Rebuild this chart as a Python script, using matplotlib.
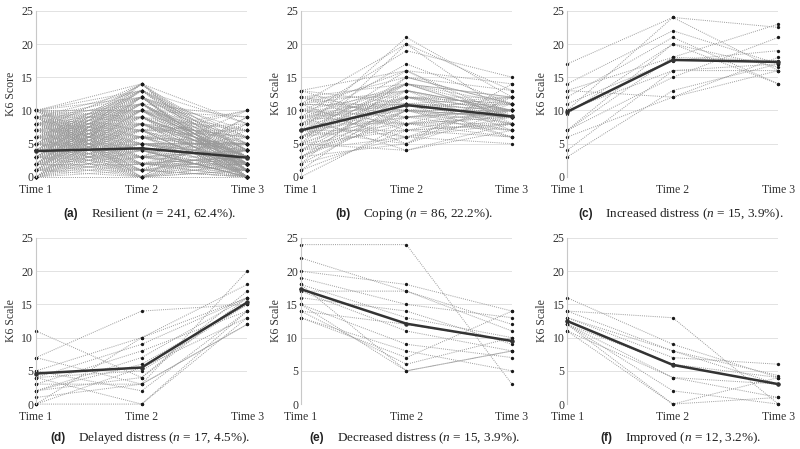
import matplotlib
matplotlib.use("Agg")
import matplotlib.pyplot as plt
from matplotlib.offsetbox import TextArea, HPacker, AnnotationBbox

plt.rcParams['font.family'] = ['Liberation Serif', 'DejaVu Serif']
plt.rcParams['mathtext.fontset'] = 'custom'
plt.rcParams['mathtext.it'] = 'Liberation Serif:italic'
plt.rcParams['mathtext.rm'] = 'Liberation Serif'

times = ['Time 1', 'Time 2', 'Time 3']

# individual trajectories (Time 1, Time 2, Time 3)
resilient = [
    [0, 0, 0], [0, 2, 1], [0, 5, 2], [0, 8, 3], [0, 12, 0], [1, 3, 0], [1, 6, 4], [1, 10, 2], [1, 0, 5], [1, 14, 1],
    [2, 1, 3], [2, 4, 0], [2, 7, 6], [2, 11, 2], [2, 13, 4], [2, 0, 8], [3, 2, 1], [3, 5, 3], [3, 9, 0], [3, 12, 5],
    [3, 6, 10], [3, 1, 7], [4, 3, 2], [4, 6, 4], [4, 8, 1], [4, 10, 6], [4, 14, 3], [4, 0, 9], [4, 4, 5], [5, 2, 0],
    [5, 5, 3], [5, 7, 8], [5, 11, 2], [5, 13, 6], [5, 1, 4], [6, 3, 1], [6, 6, 5], [6, 9, 2], [6, 12, 7], [6, 0, 3],
    [7, 4, 0], [7, 8, 4], [7, 10, 9], [7, 2, 6], [7, 14, 2], [8, 5, 3], [8, 1, 1], [8, 9, 5], [8, 12, 0], [8, 7, 10],
    [9, 3, 2], [9, 6, 7], [9, 11, 4], [9, 13, 1], [10, 4, 3], [10, 8, 6], [10, 14, 8], [10, 2, 0], [10, 10, 5], [0, 9, 7],
    [1, 11, 9], [2, 3, 10], [3, 13, 8], [6, 1, 9], [9, 0, 4], [5, 9, 1], [0, 6, 5], [4, 12, 4], [7, 6, 2], [8, 3, 8],
    [0, 1, 2], [0, 3, 4], [0, 4, 1], [0, 7, 0], [0, 10, 3], [1, 1, 0], [1, 2, 3], [1, 4, 6], [1, 5, 1], [1, 8, 0],
    [1, 12, 4], [2, 2, 2], [2, 5, 5], [2, 6, 1], [2, 8, 3], [2, 9, 0], [2, 10, 7], [2, 12, 1], [3, 0, 2], [3, 3, 4],
    [3, 4, 0], [3, 7, 2], [3, 8, 6], [3, 10, 1], [3, 11, 3], [3, 14, 0], [4, 1, 0], [4, 2, 3], [4, 5, 2], [4, 7, 7],
    [4, 9, 3], [4, 11, 1], [4, 13, 5], [5, 0, 1], [5, 3, 5], [5, 4, 2], [5, 6, 0], [5, 8, 4], [5, 10, 3], [5, 12, 2],
    [5, 14, 4], [6, 2, 4], [6, 4, 0], [6, 5, 2], [6, 7, 3], [6, 8, 1], [6, 10, 4], [6, 11, 0], [6, 13, 3], [7, 0, 1],
    [7, 1, 3], [7, 3, 4], [7, 5, 5], [7, 7, 0], [7, 9, 2], [7, 11, 3], [7, 12, 1], [8, 2, 2], [8, 4, 0], [8, 6, 4],
    [8, 8, 2], [8, 10, 3], [8, 11, 1], [8, 13, 2], [9, 1, 0], [9, 2, 3], [9, 4, 1], [9, 5, 5], [9, 7, 2], [9, 9, 3],
    [9, 10, 0], [9, 12, 6], [10, 0, 2], [10, 3, 1], [10, 5, 4], [10, 6, 2], [10, 7, 0], [10, 9, 3], [10, 12, 1], [10, 13, 4],
]
coping = [
    [0, 8, 9], [1, 12, 10], [2, 6, 8], [2, 15, 11], [3, 10, 7], [3, 5, 12], [4, 14, 9], [4, 8, 6], [5, 20, 13], [5, 11, 10],
    [5, 4, 8], [6, 9, 11], [6, 16, 9], [6, 13, 7], [7, 7, 10], [7, 21, 12], [7, 12, 9], [7, 5, 14], [8, 10, 8], [8, 17, 11],
    [8, 6, 5], [8, 14, 10], [9, 11, 9], [9, 19, 15], [9, 8, 12], [9, 4, 7], [10, 13, 10], [10, 16, 8], [10, 6, 11], [10, 9, 9],
    [11, 15, 13], [11, 10, 6], [11, 5, 10], [11, 20, 9], [12, 12, 11], [12, 7, 8], [12, 14, 12], [12, 9, 10], [13, 11, 9], [13, 16, 14],
    [13, 8, 10], [6, 11, 6], [4, 12, 11], [3, 9, 10], [8, 13, 9], [10, 11, 12], [5, 10, 9], [7, 14, 11], [9, 12, 8], [11, 13, 10],
    [1, 7, 8], [2, 10, 9], [3, 13, 10], [4, 6, 9], [4, 10, 12], [5, 7, 6], [5, 15, 11], [6, 8, 8], [6, 12, 10], [7, 9, 7],
    [7, 11, 10], [8, 8, 9], [8, 12, 12], [9, 10, 10], [9, 14, 9], [10, 8, 7], [11, 11, 11], [12, 10, 9], [6, 14, 12], [3, 11, 8],
]
increased = [
    [17, 24, 22.5], [14, 22, 17], [13, 18, 23], [12, 21, 14], [11, 17.5, 19], [10, 24, 16], [10, 16, 17], [9.5, 20, 16.5],
    [7, 15, 21], [7, 18, 17.5], [6, 12, 18], [4, 16, 16], [3, 13, 17], [13, 12, 16], [7, 20, 14],
]
delayed = [
    [11, 4, 16], [7, 3, 20], [7, 14, 15], [5, 2, 14], [5, 10, 18], [4, 5, 15], [4, 0, 13], [4, 9, 16], [3, 8, 14],
    [3, 3, 12], [2, 6, 15], [2, 4, 17], [2, 7, 16], [0, 5.5, 13], [0, 0, 14], [0, 10, 16], [1, 3, 12],
]
decreased = [
    [24, 24, 3], [22, 17, 12], [20, 18, 14], [19, 15, 13], [18, 13, 10], [17, 11, 8], [17, 17, 11], [16, 14, 9],
    [15, 9, 7], [15, 5, 8], [14, 12, 9.5], [14, 6, 10], [13, 8, 5], [13, 7, 14], [18, 5, 8],
]
improved = [
    [16, 9, 4], [14, 13, 0], [13, 8, 4.3], [13, 7, 6], [12.5, 6, 3], [12, 4, 1], [12, 2, 0], [12, 0, 4],
    [11, 4, 3], [11, 0, 1], [14, 8, 3], [12, 6, 4],
]

# class means
mean_resilient = [3.9, 4.3, 2.9]
mean_coping = [7.0, 10.8, 9.1]
mean_increased = [9.8, 17.6, 17.3]
mean_delayed = [4.6, 5.5, 15.3]
mean_decreased = [17.3, 12.1, 9.5]
mean_improved = [12.5, 5.9, 3.0]

letters = ['(a)', '(b)', '(c)', '(d)', '(e)', '(f)']
captions = [
    r'Resilient ($\mathit{n}$ = 241, 62.4%).',
    r'Coping ($\mathit{n}$ = 86, 22.2%).',
    r'Increased distress ($\mathit{n}$ = 15, 3.9%).',
    r'Delayed distress ($\mathit{n}$ = 17, 4.5%).',
    r'Decreased distress ($\mathit{n}$ = 15, 3.9%).',
    r'Improved ($\mathit{n}$ = 12, 3.2%).',
]
ylabels = ['K6 Score', 'K6 Scale', 'K6 Scale', 'K6 Scale', 'K6 Scale', 'K6 Scale']
groups = [resilient, coping, increased, delayed, decreased, improved]
means = [mean_resilient, mean_coping, mean_increased, mean_delayed, mean_decreased, mean_improved]

fig = plt.figure(figsize=(8, 4.49), dpi=100)
lefts = [0.045, 0.376, 0.709]
bottoms = [0.606, 0.100]
cap_offsets = [-27, -24.5]
w, h = 0.264, 0.370

x = [0, 1, 2]
for i in range(6):
    ax = fig.add_axes([lefts[i % 3], bottoms[i // 3], w, h])
    for person in groups[i]:
        ax.plot(x, person, color='#999999', lw=0.7, ls=(0, (1, 1.2)),
                marker='o', ms=2.4, mew=0, mfc='#1a1a1a', clip_on=False, zorder=2)
    ax.plot(x, means[i], color='#333333', lw=1.8, marker='o', ms=3.2, mew=0,
            mfc='#333333', clip_on=False, zorder=3)
    ax.set_xlim(0, 2)
    ax.set_ylim(0, 25)
    ax.set_yticks([0, 5, 10, 15, 20, 25])
    ax.set_xticks(x)
    ax.set_xticklabels(times)
    ax.tick_params(length=0, labelsize=8.5, colors='#333333')
    ax.tick_params(axis='x', pad=5)
    ax.tick_params(axis='y', pad=2)
    ax.grid(axis='y', color='#e2e2e2', lw=0.7)
    ax.set_axisbelow(True)
    for s in ['top', 'right', 'bottom']:
        ax.spines[s].set_visible(False)
    ax.spines['left'].set_color('#c8c8c8')
    ax.spines['left'].set_linewidth(0.8)
    ax.set_ylabel(ylabels[i], fontsize=8.5, color='#333333', labelpad=3)

    lab = TextArea(letters[i], textprops=dict(family='Liberation Sans', weight='bold', size=8.5, color='#222222'))
    cap = TextArea(captions[i], textprops=dict(size=9.5, color='#222222'))
    pack = HPacker(children=[lab, cap], pad=0, sep=9, align='baseline')
    ab = AnnotationBbox(pack, (0.5, 0), xycoords='axes fraction', xybox=(6, cap_offsets[i // 3]),
                        boxcoords='offset points', frameon=False, box_alignment=(0.5, 0.5))
    ax.add_artist(ab)

fig.savefig('out.png', dpi=100)
